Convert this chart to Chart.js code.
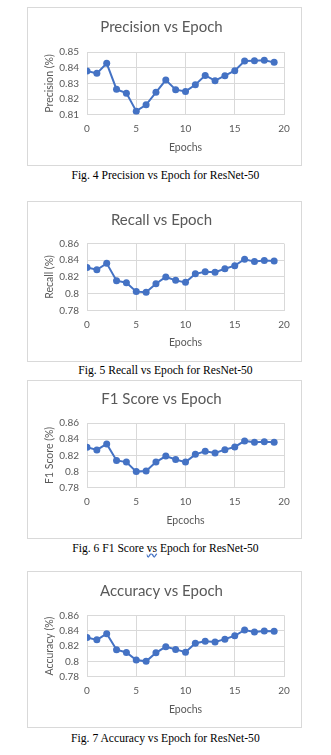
<!DOCTYPE html>
<html>
<head>
<meta charset="utf-8">
<script src="https://cdn.jsdelivr.net/npm/chart.js@4.4.1/dist/chart.umd.min.js"></script>
<style>
  body { margin: 0; background: #fff; width: 331px; height: 755px; position: relative; overflow: hidden; }
  .box { position: absolute; left: 27px; width: 275px; border: 1px solid #d9d9d9; box-sizing: border-box; }
  .box canvas { display: block; }
  .cap { position: absolute; left: 0; width: 331px; text-align: center; font-family: "Liberation Serif", "Times New Roman", serif;
         font-size: 13.5px; color: #000; transform: scaleX(0.86); transform-origin: 165px 0; line-height: 14px; }
</style>
</head>
<body>
<div class="box" id="b1" style="top:7px;height:159px"><canvas id="c1"></canvas></div>
<div class="cap" style="top:168px">Fig. 4 Precision vs Epoch for ResNet-50</div>
<div class="box" id="b2" style="top:201px;height:161px"><canvas id="c2"></canvas></div>
<div class="cap" style="top:363px">Fig. 5 Recall vs Epoch for ResNet-50</div>
<div class="box" id="b3" style="top:380px;height:159px"><canvas id="c3"></canvas></div>
<div class="cap" style="top:541px">Fig. 6 F1 Score <span style="text-decoration: underline wavy #4472c4">vs</span> Epoch for ResNet-50</div>
<div class="box" id="b4" style="top:571px;height:157px"><canvas id="c4"></canvas></div>
<div class="cap" style="top:731px">Fig. 7 Accuracy vs Epoch for ResNet-50</div>

<script>
// epochs 0..19
const epochs = [0, 1, 2, 3, 4, 5, 6, 7, 8, 9, 10, 11, 12, 13, 14, 15, 16, 17, 18, 19];

// valores
const precision = [0.8379, 0.8364, 0.8428, 0.8262, 0.8238, 0.8123, 0.8164, 0.8243, 0.8321, 0.8260,
                   0.8249, 0.8291, 0.8351, 0.8317, 0.8349, 0.8381, 0.8443, 0.8445, 0.8447, 0.8434];
const recall = [0.8314, 0.8286, 0.8363, 0.8155, 0.8131, 0.8024, 0.8016, 0.8118, 0.8200, 0.8159,
                0.8135, 0.8237, 0.8261, 0.8257, 0.8298, 0.8335, 0.8412, 0.8384, 0.8396, 0.8392];
const f1score = [0.8300, 0.8267, 0.8342, 0.8138, 0.8117, 0.8000, 0.8008, 0.8117, 0.8192, 0.8150,
                 0.8117, 0.8213, 0.8250, 0.8229, 0.8271, 0.8304, 0.8379, 0.8363, 0.8367, 0.8363];
const accuracy = [0.8311, 0.8280, 0.8360, 0.8151, 0.8116, 0.8018, 0.8000, 0.8111, 0.8191, 0.8156,
                  0.8120, 0.8236, 0.8262, 0.8253, 0.8289, 0.8333, 0.8409, 0.8382, 0.8396, 0.8391];

const xTicks = [0, 5, 10, 15, 20];
const precisionTicks = [0.81, 0.82, 0.83, 0.84, 0.85];
const otherTicks = [0.78, 0.80, 0.82, 0.84, 0.86];

const BLUE = '#4472C4';
const GRID = '#d9d9d9';
const TEXT = '#595959';
const FONT = 'Lato, "Open Sans", sans-serif';

// lay: [title pad top, title pad bottom, bottom pad]
function makeChart(id, title, yLabel, xLabel, values, yTicks, lay) {
    const box = document.getElementById('b' + id);
    const canvas = document.getElementById('c' + id);
    canvas.width = box.clientWidth;
    canvas.height = box.clientHeight;

    new Chart(canvas, {
        type: 'line',
        data: {
            datasets: [{
                data: epochs.map((e, i) => ({ x: e, y: values[i] })),
                borderColor: BLUE,
                backgroundColor: BLUE,
                borderWidth: 2,
                pointRadius: 3.5,
                pointBorderWidth: 0,
                tension: 0
            }]
        },
        options: {
            responsive: false,
            animation: false,
            layout: { padding: { left: 11, right: 17, top: 0, bottom: lay[2] } },
            plugins: {
                legend: { display: false },
                tooltip: { enabled: false },
                title: {
                    display: true,
                    text: title,
                    color: TEXT,
                    font: { family: FONT, size: 15, weight: 'normal', lineHeight: 1.2 },
                    padding: { top: lay[0], bottom: lay[1] }
                }
            },
            scales: {
                x: {
                    type: 'linear',
                    min: xTicks[0],
                    max: xTicks[xTicks.length - 1],
                    afterBuildTicks: axis => { axis.ticks = xTicks.map(v => ({ value: v })); },
                    afterFit: axis => { axis.height = 39; },
                    grid: { color: GRID, drawTicks: false },
                    border: { color: GRID },
                    ticks: { color: TEXT, padding: 8, autoSkip: false, maxRotation: 0, font: { family: FONT, size: 10 } },
                    title: { display: true, text: xLabel, color: TEXT, padding: { top: 0, bottom: 0 },
                             font: { family: FONT, size: 10.5 } }
                },
                y: {
                    min: yTicks[0],
                    max: yTicks[yTicks.length - 1],
                    afterBuildTicks: axis => { axis.ticks = yTicks.map(v => ({ value: v })); },
                    afterFit: axis => { axis.width = 48; },
                    grid: { color: GRID, drawTicks: false },
                    border: { display: false },
                    ticks: {
                        color: TEXT, padding: 8, autoSkip: false, font: { family: FONT, size: 10 },
                        callback: v => String(Number(v.toFixed(2)))
                    },
                    title: { display: true, text: yLabel, color: TEXT, padding: { top: 4, bottom: 4 },
                             font: { family: FONT, size: 10.5 } }
                }
            }
        }
    });
}

makeChart(1, 'Precision vs Epoch', 'Precision (%)', 'Epochs', precision, precisionTicks, [9.7, 16.3, 11.2]);
makeChart(2, 'Recall vs Epoch', 'Recall (%)', 'Epochs', recall, otherTicks, [9.0, 14.6, 11.7]);
makeChart(3, 'F1 Score vs Epoch', 'F1 Score (%)', 'Epcochs', f1score, otherTicks, [9.3, 14.7, 11.2]);
makeChart(4, 'Accuracy vs Epoch', 'Accuracy (%)', 'Epochs', accuracy, otherTicks, [10.0, 15.3, 11.3]);
</script>
</body>
</html>
